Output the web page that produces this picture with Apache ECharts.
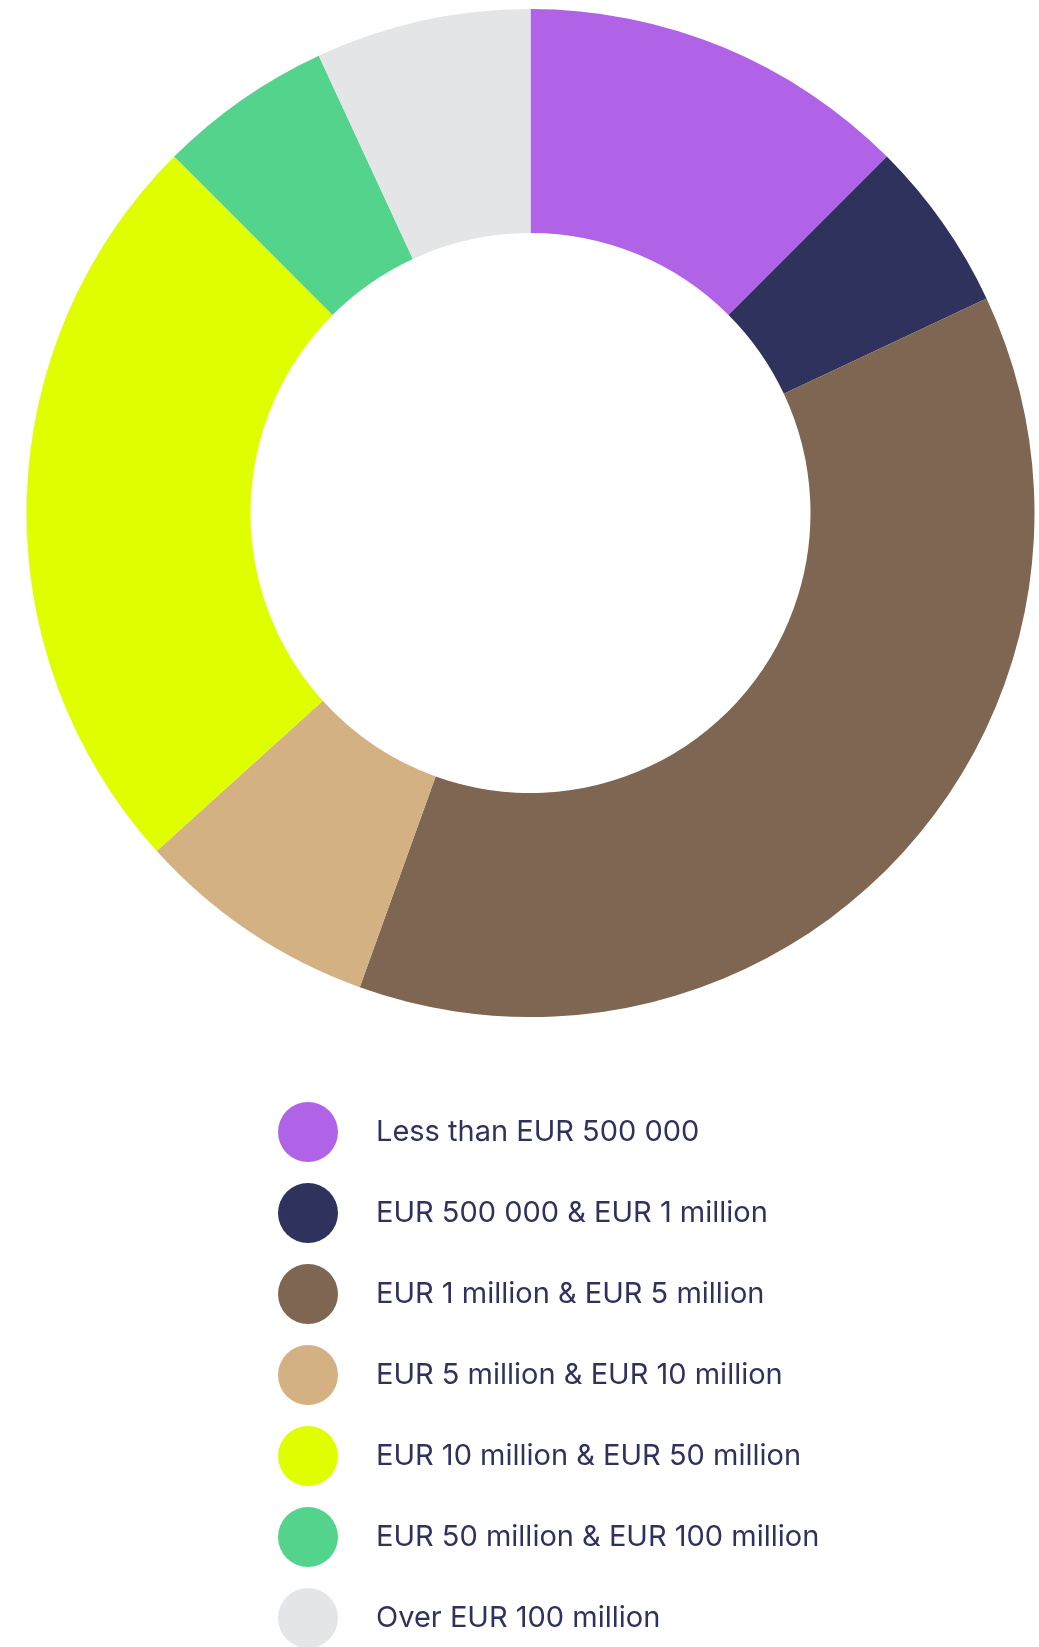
<!DOCTYPE html>
<html>
<head>
<meta charset="utf-8">
<script src="https://cdn.jsdelivr.net/npm/echarts@6/dist/echarts.min.js"></script>
<style>
  html, body { margin: 0; padding: 0; background: #ffffff; }
  #chart { width: 1039px; height: 1647px; }
</style>
</head>
<body>
<div id="chart"></div>
<script>
// Share of companies by size band (percent)
const categories = [
  'Less than EUR 500 000',
  'EUR 500 000 & EUR 1 million',
  'EUR 1 million & EUR 5 million',
  'EUR 5 million & EUR 10 million',
  'EUR 10 million & EUR 50 million',
  'EUR 50 million & EUR 100 million',
  'Over EUR 100 million'
];
const values = [12.5, 5.5, 37.5, 7.8, 24.2, 5.6, 6.9];
const colors = ['#b163e8', '#30325e', '#7e6653', '#d4b183', '#dfff00', '#54d38d', '#e4e5e7'];

const chart = echarts.init(document.getElementById('chart'), null, { renderer: 'canvas' });

chart.setOption({
  animation: false,
  color: colors,
  legend: {
    orient: 'vertical',
    left: 278,
    top: 1102,
    height: 620,
    padding: 0,
    itemWidth: 60,
    itemHeight: 60,
    itemGap: 21,
    icon: 'circle',
    selectedMode: false,
    textStyle: {
      fontFamily: 'Inter',
      fontSize: 29,
      color: '#30325e',
      padding: [0, 0, 0, 33]
    },
    data: categories
  },
  series: [{
    type: 'pie',
    center: [530.5, 513],
    radius: [280, 504],
    startAngle: 90,
    clockwise: true,
    label: { show: false },
    labelLine: { show: false },
    emphasis: { disabled: true },
    itemStyle: { borderWidth: 0 },
    data: categories.map((name, i) => ({ name, value: values[i] }))
  }]
});
</script>
</body>
</html>
